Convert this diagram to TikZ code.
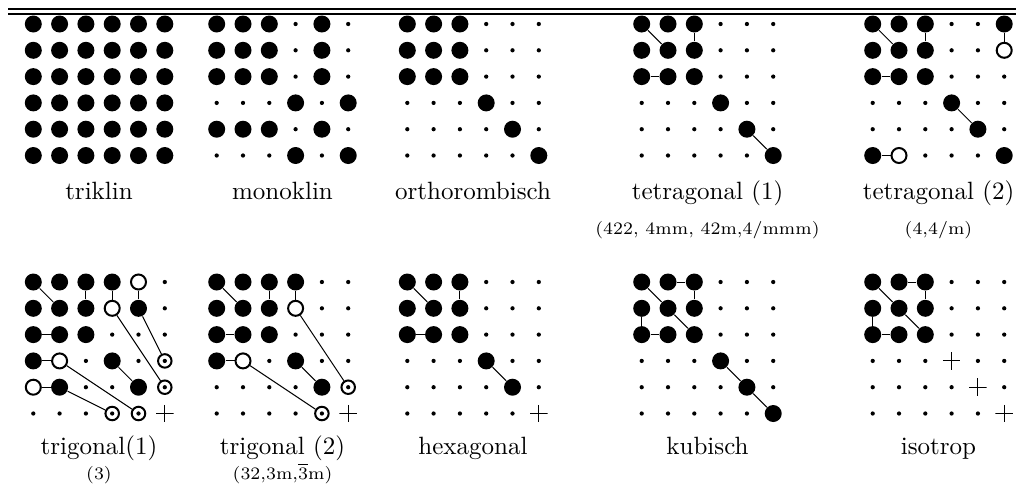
\documentclass[tikz,border=0pt]{standalone}
\usepackage{amssymb}
\usepackage{tikz}

\tikzset{
  gp/.style={circle,fill,inner sep=0pt,minimum size=6.8pt},
  kp/.style={circle,fill,inner sep=0pt,minimum size=1.7pt},
  ok/.style={circle,draw,fill=white,line width=0.8pt,inner sep=0pt,minimum size=6pt},
  rp/.style={circle,draw,line width=0.8pt,inner sep=0pt,minimum size=5.4pt,
    path picture={\fill (path picture bounding box.center) circle (0.85pt);}},
  pl/.style={inner sep=0pt,minimum size=7pt,
    path picture={\draw[line width=0.4pt] (path picture bounding box.west)--(path picture bounding box.east)
      (path picture bounding box.north)--(path picture bounding box.south);}},
  lab/.style={anchor=base},
  sublab/.style={anchor=base,font=\scriptsize},
}

% 6x6 Gitter: Name, x, y, Zeilen
\newcommand{\gitter}[4]{%
  \foreach \zeile [count=\i] in {#4} {
    \foreach \typ [count=\j] in \zeile {
      \node[\typ] (#1-\i-\j) at ({#2+26.3*(\j-1)},{#3+26.3*(\i-1)}) {};
    }
  }
}

\begin{document}
\begin{tikzpicture}[x=0.4pt,y=-0.4pt]
\useasboundingbox (0,0) rectangle (1024,495);

\draw[line width=0.8pt] (8,8.5)--(1016,8.5);
\draw[line width=0.6pt] (8,14)--(1016,14);

% obere Reihe
\gitter{trikl}{33.3}{24}{{gp,gp,gp,gp,gp,gp},{gp,gp,gp,gp,gp,gp},{gp,gp,gp,gp,gp,gp},
  {gp,gp,gp,gp,gp,gp},{gp,gp,gp,gp,gp,gp},{gp,gp,gp,gp,gp,gp}}
\gitter{monokl}{216.7}{24}{{gp,gp,gp,kp,gp,kp},{gp,gp,gp,kp,gp,kp},{gp,gp,gp,kp,gp,kp},
  {kp,kp,kp,gp,kp,gp},{gp,gp,gp,kp,gp,kp},{kp,kp,kp,gp,kp,gp}}
\gitter{ortho}{407.3}{24}{{gp,gp,gp,kp,kp,kp},{gp,gp,gp,kp,kp,kp},{gp,gp,gp,kp,kp,kp},
  {kp,kp,kp,gp,kp,kp},{kp,kp,kp,kp,gp,kp},{kp,kp,kp,kp,kp,gp}}
\gitter{tetra1}{641.7}{24}{{gp,gp,gp,kp,kp,kp},{gp,gp,gp,kp,kp,kp},{gp,gp,gp,kp,kp,kp},
  {kp,kp,kp,gp,kp,kp},{kp,kp,kp,kp,gp,kp},{kp,kp,kp,kp,kp,gp}}
\gitter{tetra2}{872.7}{24}{{gp,gp,gp,kp,kp,gp},{gp,gp,gp,kp,kp,ok},{gp,gp,gp,kp,kp,kp},
  {kp,kp,kp,gp,kp,kp},{kp,kp,kp,kp,gp,kp},{gp,ok,kp,kp,kp,gp}}

% untere Reihe
\gitter{trig1}{33.3}{282}{{gp,gp,gp,gp,ok,kp},{gp,gp,gp,ok,gp,kp},{gp,gp,gp,kp,kp,kp},
  {gp,ok,kp,gp,kp,rp},{ok,gp,kp,kp,gp,rp},{kp,kp,kp,rp,rp,pl}}
\gitter{trig2}{216.7}{282}{{gp,gp,gp,gp,kp,kp},{gp,gp,gp,ok,kp,kp},{gp,gp,gp,kp,kp,kp},
  {gp,ok,kp,gp,kp,kp},{kp,kp,kp,kp,gp,rp},{kp,kp,kp,kp,rp,pl}}
\gitter{hexa}{407.3}{282}{{gp,gp,gp,kp,kp,kp},{gp,gp,gp,kp,kp,kp},{gp,gp,gp,kp,kp,kp},
  {kp,kp,kp,gp,kp,kp},{kp,kp,kp,kp,gp,kp},{kp,kp,kp,kp,kp,pl}}
\gitter{kub}{641.7}{282}{{gp,gp,gp,kp,kp,kp},{gp,gp,gp,kp,kp,kp},{gp,gp,gp,kp,kp,kp},
  {kp,kp,kp,gp,kp,kp},{kp,kp,kp,kp,gp,kp},{kp,kp,kp,kp,kp,gp}}
\gitter{iso}{872.7}{282}{{gp,gp,gp,kp,kp,kp},{gp,gp,gp,kp,kp,kp},{gp,gp,gp,kp,kp,kp},
  {kp,kp,kp,pl,kp,kp},{kp,kp,kp,kp,pl,kp},{kp,kp,kp,kp,kp,pl}}

% Verbindungen
\foreach \a/\b in {1-1/2-2,1-3/2-3,3-1/3-2,5-5/6-6}
  \draw (tetra1-\a)--(tetra1-\b);
\foreach \a/\b in {1-1/2-2,1-3/2-3,3-1/3-2,4-4/5-5,1-6/2-6,6-1/6-2}
  \draw (tetra2-\a)--(tetra2-\b);
\foreach \a/\b in {1-1/2-2,1-3/2-3,1-4/2-4,1-5/2-5,3-1/3-2,4-1/4-2,5-1/5-2,
  2-4/5-6,2-5/4-6,4-2/6-5,5-2/6-4,4-4/5-5}
  \draw (trig1-\a)--(trig1-\b);
\foreach \a/\b in {1-1/2-2,1-3/2-3,1-4/2-4,3-1/3-2,4-1/4-2,2-4/5-6,4-2/6-5,4-4/5-5}
  \draw (trig2-\a)--(trig2-\b);
\foreach \a/\b in {1-1/2-2,1-3/2-3,3-1/3-2,4-4/5-5}
  \draw (hexa-\a)--(hexa-\b);
\foreach \a/\b in {1-1/2-2,2-2/3-3,1-2/1-3,1-3/2-3,2-1/3-1,3-1/3-2,4-4/5-5,5-5/6-6}
  \draw (kub-\a)--(kub-\b);
\foreach \a/\b in {1-1/2-2,2-2/3-3,1-2/1-3,1-3/2-3,2-1/3-1,3-1/3-2}
  \draw (iso-\a)--(iso-\b);

% Beschriftungen
\node[lab] (trikl-l) at (99,199) {triklin};
\node[lab] (monokl-l) at (282.5,199) {monoklin};
\node[lab] (ortho-l) at (473,199) {orthorombisch};
\node[lab] (tetra1-l) at (707.5,199) {tetragonal (1)};
\node[lab] (tetra2-l) at (938.5,199) {tetragonal (2)};
\node[sublab] (tetra1-s) at (707.5,234) {(422, 4mm, 42m,4/mmm)};
\node[sublab] (tetra2-s) at (938.5,234) {(4,4/m)};
\node[lab] (trig1-l) at (99,454) {trigonal(1)};
\node[lab] (trig2-l) at (282.5,454) {trigonal (2)};
\node[lab] (hexa-l) at (473,454) {hexagonal};
\node[lab] (kub-l) at (707.5,454) {kubisch};
\node[lab] (iso-l) at (938.5,454) {isotrop};
\node[sublab] (trig1-s) at (99,479) {(3)};
\node[sublab] (trig2-s) at (282.5,479) {(32,3m,$\overline{3}$m)};
\end{tikzpicture}
\end{document}
